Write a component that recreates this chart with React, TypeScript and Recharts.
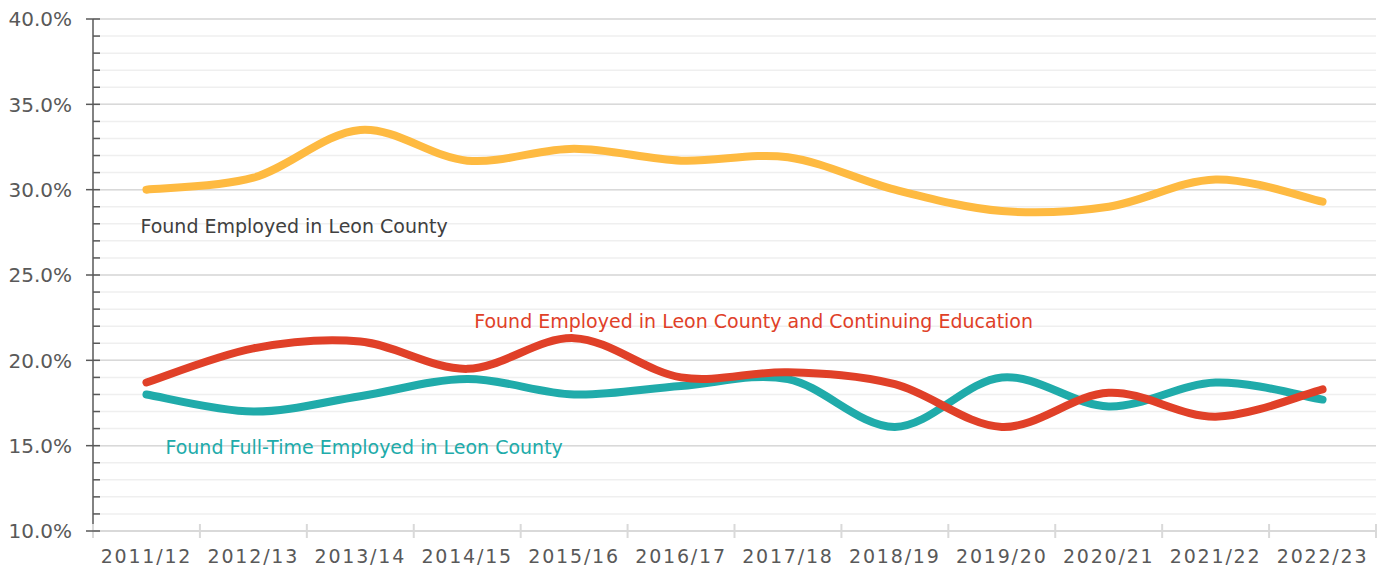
import {
  CartesianGrid,
  Line,
  LineChart,
  ReferenceDot,
  ReferenceLine,
  XAxis,
  YAxis,
} from "recharts";

const YEARS = [
  "2011/12", "2012/13", "2013/14", "2014/15", "2015/16", "2016/17",
  "2017/18", "2018/19", "2019/20", "2020/21", "2021/22", "2022/23",
];
const EMPLOYED = [30.0, 30.7, 33.5, 31.7, 32.4, 31.7, 31.9, 30.0, 28.75, 29.0, 30.6, 29.3];
const EMPLOYED_EDU = [18.7, 20.7, 21.1, 19.5, 21.3, 19.0, 19.3, 18.6, 16.1, 18.1, 16.7, 18.3];
const FULL_TIME = [18.0, 17.0, 17.9, 18.9, 18.0, 18.5, 18.9, 16.1, 19.0, 17.3, 18.7, 17.7];

const MAJOR_TICKS = [10, 15, 20, 25, 30, 35, 40];
// one light grid line per percentage point between the major ones
const ALL_TICKS = Array.from({ length: 31 }, (_, i) => 10 + i);

const YELLOW = "#FEBA41";
const RED = "#E04028";
const TEAL = "#20ABAA";
const TEXT = "#595959";
const FONT = "'DejaVu Sans', sans-serif";

const WIDTH = 1385;
const HEIGHT = 571;
const X_AXIS_H = 30;
const MARGIN = { top: 19, right: 9, bottom: 40 - X_AXIS_H, left: 0 };
const AXIS_W = 93;
const PLOT_W = WIDTH - MARGIN.right - AXIS_W;
const HALF_BAND = PLOT_W / 24;

const data = YEARS.map((year, i) => ({
  year,
  employed: EMPLOYED[i],
  edu: EMPLOYED_EDU[i],
  fullTime: FULL_TIME[i],
}));

// Spreadsheet-style "smoothed line": a Catmull-Rom spline drawn as Béziers,
// passing through every point and overshooting a little between them.
function smoothCurve(context: any) {
  let pts: [number, number][] = [];
  return {
    areaStart() {},
    areaEnd() {},
    lineStart() {
      pts = [];
    },
    point(x: number, y: number) {
      pts.push([+x, +y]);
    },
    lineEnd() {
      if (!pts.length) return;
      context.moveTo(pts[0][0], pts[0][1]);
      for (let i = 0; i < pts.length - 1; i++) {
        const p0 = pts[i - 1] ?? pts[i];
        const p1 = pts[i];
        const p2 = pts[i + 1];
        const p3 = pts[i + 2] ?? p2;
        context.bezierCurveTo(
          p1[0] + (p2[0] - p0[0]) / 6,
          p1[1] + (p2[1] - p0[1]) / 6,
          p2[0] - (p3[0] - p1[0]) / 6,
          p2[1] - (p3[1] - p1[1]) / 6,
          p2[0],
          p2[1],
        );
      }
    },
  };
}

function YTick({ x, y, payload }: any) {
  const major = MAJOR_TICKS.includes(payload.value);
  return (
    <g>
      <line
        x1={major ? x - 7 : x}
        x2={x + 7}
        y1={y}
        y2={y}
        stroke={TEXT}
        strokeWidth={1.5}
      />
      {major ? (
        <text
          x={x - 21}
          y={y}
          dy="0.36em"
          textAnchor="end"
          fill={TEXT}
          fontSize={20}
          fontFamily={FONT}
        >
          {payload.value.toFixed(1)}%
        </text>
      ) : null}
    </g>
  );
}

function XTick({ x, y, payload, index }: any) {
  return (
    <g>
      <line x1={x - HALF_BAND} x2={x - HALF_BAND} y1={y - 7} y2={y + 7} stroke="#d9d9d9" strokeWidth={2} />
      {index === YEARS.length - 1 ? (
        <line x1={x + HALF_BAND} x2={x + HALF_BAND} y1={y - 7} y2={y + 7} stroke="#d9d9d9" strokeWidth={2} />
      ) : null}
      <text
        x={x}
        y={y + 25}
        dy="0.36em"
        textAnchor="middle"
        fill={TEXT}
        fontSize={19}
        letterSpacing={1.8}
        fontFamily={FONT}
      >
        {payload.value}
      </text>
    </g>
  );
}

function seriesLabel(text: string, color: string, dx: number) {
  return ({ viewBox }: any) => (
    <text
      x={viewBox.x + dx}
      y={viewBox.y}
      dy="0.36em"
      fill={color}
      fontSize={19}
      fontFamily={FONT}
    >
      {text}
    </text>
  );
}

export default function App() {
  return (
    <div style={{ position: "absolute", left: 0, top: 0, background: "#fff" }}>
      <LineChart width={WIDTH} height={HEIGHT} data={data} margin={MARGIN}>
        <CartesianGrid vertical={false} stroke="#efefef" strokeWidth={1.5} />
        {MAJOR_TICKS.slice(1).map((v) => (
          <ReferenceLine key={v} y={v} stroke="#d9d9d9" strokeWidth={1.5} />
        ))}
        <XAxis
          dataKey="year"
          height={X_AXIS_H}
          padding={{ left: HALF_BAND, right: HALF_BAND }}
          axisLine={{ stroke: "#d9d9d9", strokeWidth: 2 }}
          tickLine={false}
          tickSize={0}
          tickMargin={0}
          tick={<XTick />}
          interval={0}
        />
        <YAxis
          width={AXIS_W}
          domain={[10, 40]}
          ticks={ALL_TICKS}
          interval={0}
          axisLine={{ stroke: TEXT, strokeWidth: 1.5 }}
          tickLine={false}
          tickSize={0}
          tickMargin={0}
          tick={<YTick />}
        />
        <Line
          dataKey="employed"
          type={smoothCurve as any}
          stroke={YELLOW}
          strokeWidth={8}
          strokeLinecap="round"
          dot={false}
          activeDot={false}
          isAnimationActive={false}
        />
        <Line
          dataKey="fullTime"
          type={smoothCurve as any}
          stroke={TEAL}
          strokeWidth={8}
          strokeLinecap="round"
          dot={false}
          activeDot={false}
          isAnimationActive={false}
        />
        <Line
          dataKey="edu"
          type={smoothCurve as any}
          stroke={RED}
          strokeWidth={8}
          strokeLinecap="round"
          dot={false}
          activeDot={false}
          isAnimationActive={false}
        />
        <ReferenceDot
          x="2011/12"
          y={27.87}
          r={0}
          fill="none"
          stroke="none"
          ifOverflow="visible"
          label={seriesLabel("Found Employed in Leon County", "#404040", -6)}
        />
        <ReferenceDot
          x="2014/15"
          y={22.3}
          r={0}
          fill="none"
          stroke="none"
          ifOverflow="visible"
          label={seriesLabel("Found Employed in Leon County and Continuing Education", RED, 7)}
        />
        <ReferenceDot
          x="2011/12"
          y={14.92}
          r={0}
          fill="none"
          stroke="none"
          ifOverflow="visible"
          label={seriesLabel("Found Full-Time Employed in Leon County", TEAL, 19)}
        />
      </LineChart>
    </div>
  );
}
